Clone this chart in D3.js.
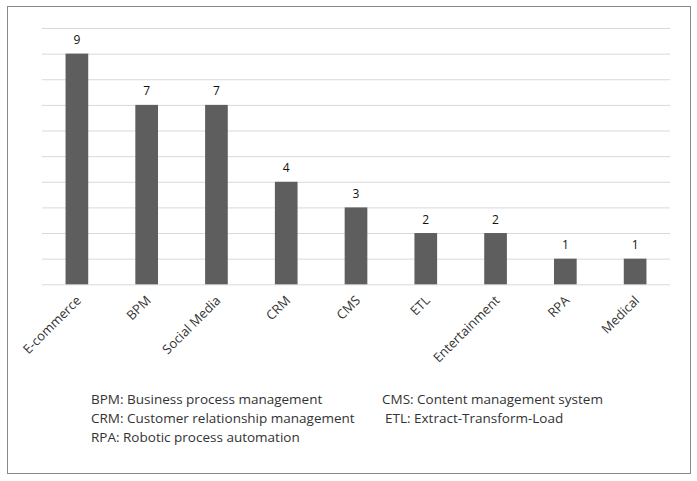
<!DOCTYPE html>
<html>
<head>
<meta charset="utf-8">
<script src="https://cdn.jsdelivr.net/npm/d3@7"></script>
<style>
	body { margin: 0; background: #fff; }
	text { font-family: "Open Sans", "Noto Sans", sans-serif; fill: #222; }
</style>
</head>
<body>
<div id="chart"></div>
<script>
// Chart data
const categories = ["E-commerce", "BPM", "Social Media", "CRM", "CMS", "ETL", "Entertainment", "RPA", "Medical"];
const counts = [9, 7, 7, 4, 3, 2, 2, 1, 1];
const yTicks = [0, 1, 2, 3, 4, 5, 6, 7, 8, 9, 10];
const notesLeft = ["BPM: Business process management", "CRM: Customer relationship management", "RPA: Robotic process automation"];
const notesRight = ["CMS: Content management system", "ETL: Extract-Transform-Load"];

const W = 697, H = 481;
const margin = { top: 28, right: 27, bottom: 196, left: 42 };
const width = W - margin.left - margin.right;
const height = H - margin.top - margin.bottom - 0.7;

const svg = d3.select("#chart")
	.append("svg")
	.attr("width", W)
	.attr("height", H);

// Outer frame
svg.append("rect")
	.attr("x", 7.5)
	.attr("y", 6.5)
	.attr("width", 683)
	.attr("height", 467)
	.attr("fill", "none")
	.attr("stroke", "#8a8a8a")
	.attr("stroke-width", 1);

const g = svg.append("g")
	.attr("transform", "translate(" + margin.left + "," + margin.top + ")");

const x = d3.scaleBand().domain(categories).range([0, width]).paddingInner(0.675).paddingOuter(0.3375);
const y = d3.scaleLinear().domain([0, 10]).range([height, 0]);

// Gridlines
g.append("g")
	.attr("class", "grid")
	.call(d3.axisLeft(y).tickValues(yTicks).tickSize(-width).tickFormat(""))
	.call((s) => s.select(".domain").remove())
	.call((s) => s.selectAll("line").attr("stroke", "#d9d9d9").attr("stroke-width", 1));

// Bars
g.selectAll(".bar")
	.data(counts)
	.enter()
	.append("rect")
	.attr("class", "bar")
	.attr("x", (d, i) => x(categories[i]))
	.attr("y", (d) => y(d))
	.attr("width", x.bandwidth())
	.attr("height", (d) => height - y(d))
	.attr("fill", "#5e5e5e");

// Value labels
g.selectAll(".value")
	.data(counts)
	.enter()
	.append("text")
	.attr("class", "value")
	.attr("x", (d, i) => x(categories[i]) + x.bandwidth() / 2)
	.attr("y", (d) => y(d) - 9.5)
	.attr("text-anchor", "middle")
	.style("font-size", "12px")
	.style("fill", "#111")
	.text((d) => d);

// Category axis with rotated labels
const xAxis = g.append("g")
	.attr("class", "x-axis")
	.attr("transform", "translate(0," + height + ")")
	.call(d3.axisBottom(x).tickSize(0).tickPadding(0));
xAxis.select(".domain").remove();
xAxis.selectAll("text")
	.attr("x", 0)
	.attr("y", 0)
	.attr("dy", null)
	.attr("text-anchor", "end")
	.attr("transform", "translate(5,17) rotate(-45)")
	.style("font-size", "13px")
	.style("fill", "#333");

// Abbreviation notes
svg.append("g")
	.selectAll("text")
	.data(notesLeft)
	.enter()
	.append("text")
	.attr("x", 91)
	.attr("y", (d, i) => 404 + i * 19)
	.style("font-size", "13.5px")
	.style("fill", "#333")
	.text((d) => d);

svg.append("g")
	.selectAll("text")
	.data(notesRight)
	.enter()
	.append("text")
	.attr("x", (d, i) => (i === 0 ? 382 : 385))
	.attr("y", (d, i) => 404 + i * 19)
	.style("font-size", "13.5px")
	.style("fill", "#333")
	.text((d) => d);
</script>
</body>
</html>
